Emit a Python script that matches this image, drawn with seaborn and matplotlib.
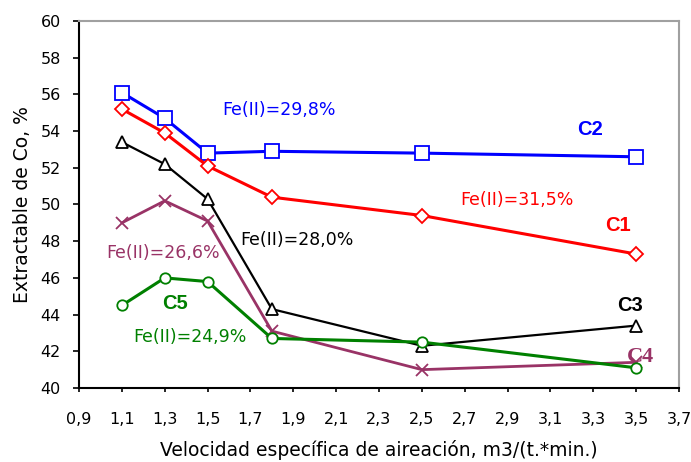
import matplotlib
matplotlib.use("Agg")
import matplotlib.pyplot as plt
import seaborn as sns
import pandas as pd

x_vals = [1.1, 1.3, 1.5, 1.8, 2.5, 3.5]
c1 = [55.2, 53.9, 52.1, 50.4, 49.4, 47.3]
c2 = [56.1, 54.7, 52.8, 52.9, 52.8, 52.6]
c3 = [53.4, 52.2, 50.3, 44.3, 42.3, 43.4]
c4 = [49.0, 50.2, 49.1, 43.1, 41.0, 41.4]
c5 = [44.5, 46.0, 45.8, 42.7, 42.5, 41.1]
x_ticks = [0.9, 1.1, 1.3, 1.5, 1.7, 1.9, 2.1, 2.3, 2.5, 2.7, 2.9, 3.1, 3.3, 3.5, 3.7]
y_ticks = [40, 42, 44, 46, 48, 50, 52, 54, 56, 58, 60]

sns.set_theme(style="white")
plt.rcParams['font.family'] = ['DejaVu Sans']
plt.rcParams['text.color'] = 'black'
plt.rcParams['axes.labelcolor'] = 'black'
plt.rcParams['xtick.color'] = 'black'
plt.rcParams['ytick.color'] = 'black'

fig = plt.figure(figsize=(6.91, 4.62), dpi=100)
ax = fig.add_axes([79/691, 1 - 388/462, 600/691, 367/462])

series = [
    ("C2", c2, "#0000FF", "s", 10, 2.2),
    ("C1", c1, "#FF0000", "D", 7.5, 2.2),
    ("C3", c3, "#000000", "^", 9, 1.6),
    ("C4", c4, "#993366", "x", 9, 2.0),
    ("C5", c5, "#008000", "o", 7.5, 2.2),
]
for name, vals, col, mk, ms, lw in series:
    df = pd.DataFrame({"x": x_vals, "y": vals})
    sns.lineplot(data=df, x="x", y="y", ax=ax, color=col, lw=lw,
                 marker=mk, markersize=ms, markerfacecolor="white" if mk != "x" else col,
                 markeredgecolor=col, markeredgewidth=1.3, legend=False)

ax.set_xlim(0.9, 3.7)
ax.set_ylim(40, 60)
ax.set_xticks(x_ticks)
ax.set_xticklabels([f"{v:.1f}".replace(".", ",") for v in x_ticks])
ax.set_yticks(y_ticks)
ax.set_yticklabels([str(v) for v in y_ticks])
ax.tick_params(axis="both", direction="out", width=1.2, color="black", labelcolor="black",
               labelsize=11.5, bottom=True, left=True)
ax.tick_params(axis="y", length=4.5, pad=8.5)
ax.tick_params(axis="x", length=3, pad=14)
for s in ["left", "bottom"]:
    ax.spines[s].set_color("black")
    ax.spines[s].set_linewidth(1.5)
for s in ["top", "right"]:
    ax.spines[s].set_color("#A0A0A0")
    ax.spines[s].set_linewidth(1.5)

ax.set_xlabel("Velocidad específica de aireación, m3/(t.*min.)", fontsize=13.5, labelpad=10, color="black")
ax.set_ylabel("Extractable de Co, %", fontsize=13.5, labelpad=6, color="black")

ann = dict(fontsize=12.5, va="center", ha="left")
ax.text(1.567, 55.15, "Fe(II)=29,8%", color="#0000FF", **ann)
ax.text(2.678, 50.25, "Fe(II)=31,5%", color="#FF0000", **ann)
ax.text(1.651, 48.07, "Fe(II)=28,0%", color="#000000", **ann)
ax.text(1.026, 47.36, "Fe(II)=26,6%", color="#993366", **ann)
ax.text(1.152, 42.78, "Fe(II)=24,9%", color="#008000", **ann)

bold = dict(fontsize=14.5, fontweight="bold", va="center", ha="left")
ax.text(3.224, 54.06, "C2", color="#0000FF", family="Liberation Sans", **bold)
ax.text(3.355, 48.88, "C1", color="#FF0000", family="Liberation Sans", **bold)
ax.text(3.41, 44.52, "C3", color="#000000", family="Liberation Sans", **bold)
ax.text(3.457, 41.69, "C4", color="#993366", family="Liberation Serif",
        fontsize=16, fontweight="bold", va="center", ha="left")
ax.text(1.287, 44.63, "C5", color="#008000", family="Liberation Sans", **bold)

fig.savefig("out.png", dpi=100)
